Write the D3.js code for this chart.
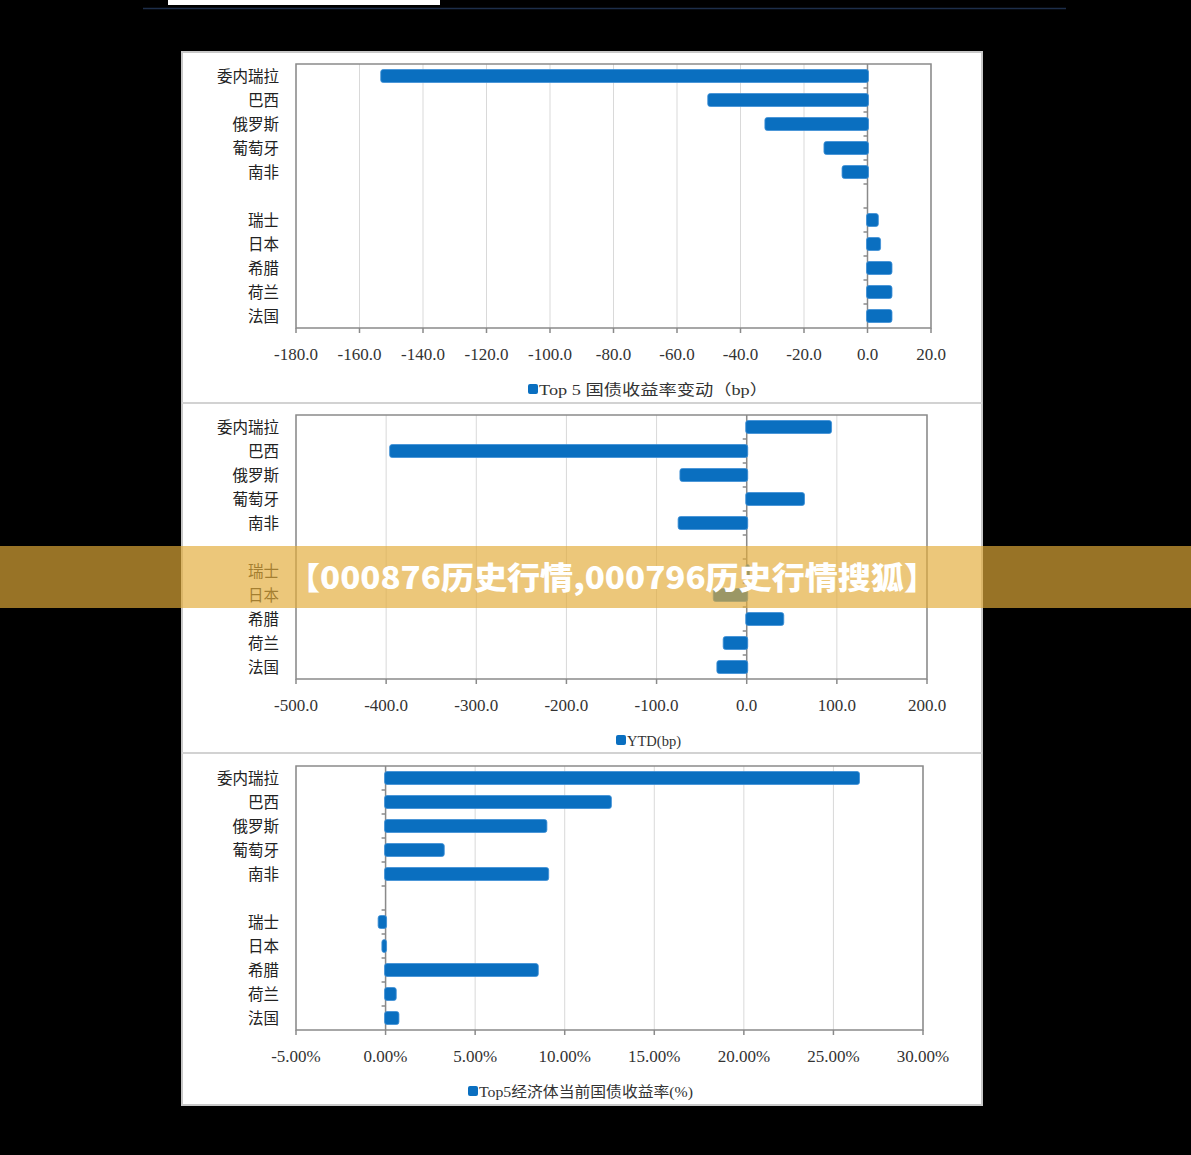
<!DOCTYPE html>
<html>
<head>
<meta charset="utf-8">
<script src="https://cdn.jsdelivr.net/npm/d3@7/dist/d3.min.js"></script>
<style>
  html, body { margin: 0; padding: 0; background: #000; }
  svg { display: block; }
</style>
</head>
<body>
<svg id="chart" width="1191" height="1155"></svg>
<script>
// ---------- DATA ----------
const categories = ["委内瑞拉", "巴西", "俄罗斯", "葡萄牙", "南非", "", "瑞士", "日本", "希腊", "荷兰", "法国"];
const changeTop5 = [-153, -50, -32, -13.4, -7.7, null, 3.1, 3.8, 7.4, 7.4, 7.4];
const ytdBp = [93, -395, -73, 63, -75, null, 2, -36, 40, -25, -32];
const yieldPct = [26.4, 12.55, 8.95, 3.22, 9.05, null, -0.36, -0.15, 8.47, 0.54, 0.69];
const ticks1 = [-180, -160, -140, -120, -100, -80, -60, -40, -20, 0, 20];
const ticks2 = [-500, -400, -300, -200, -100, 0, 100, 200];
const ticks3 = [-5, 0, 5, 10, 15, 20, 25, 30];
const legend1 = "Top 5 国债收益率变动（bp）";
const legend2 = "YTD(bp)";
const legend3 = "Top5经济体当前国债收益率(%)";
const bannerText = "【000876历史行情,000796历史行情搜狐】";

// ---------- DRAW ----------
const svg = d3.select("#chart");
const loc = d3.formatLocale({decimal: ".", thousands: ",", grouping: [3], currency: ["", ""], minus: "-"});
const fmt1 = loc.format(".1f");
const fmtPct = v => loc.format(".2f")(v) + "%";

const FONT = "'Liberation Serif', 'Noto Sans CJK SC', serif";
const BLUE = "#0a6fc0";
const FRAME = "#8a8a8a";
const GRID = "#d9d9d9";

svg.append("rect").attr("width", 1191).attr("height", 1155).attr("fill", "#000");
// top decorations
svg.append("rect").attr("x", 168).attr("y", 0).attr("width", 272).attr("height", 5).attr("fill", "#fff");
svg.append("line").attr("x1", 143).attr("x2", 1066).attr("y1", 8.5).attr("y2", 8.5)
  .attr("stroke", "#1d2e4a").attr("stroke-width", 1.5);

// white panel
svg.append("rect").attr("x", 182).attr("y", 52).attr("width", 800).attr("height", 1053)
  .attr("fill", "#fff").attr("stroke", "#c8c8c8").attr("stroke-width", 2);
[403, 753].forEach(yy => {
  svg.append("line").attr("x1", 182).attr("x2", 982).attr("y1", yy).attr("y2", yy)
    .attr("stroke", "#d2d2d2").attr("stroke-width", 2);
});

function drawChart(cfg) {
  const g = svg.append("g");
  const top = cfg.top, bottom = cfg.top + 264;
  const x = d3.scaleLinear().domain(cfg.domain).range([cfg.left, cfg.right]);
  const y = d3.scaleBand().domain(d3.range(categories.length)).range([top, bottom])
    .paddingInner(11 / 24).paddingOuter(11 / 48);
  const step = y.step();

  // gridlines
  g.selectAll(".grid").data(cfg.ticks).enter().append("line")
    .attr("x1", d => x(d)).attr("x2", d => x(d)).attr("y1", top).attr("y2", bottom)
    .attr("stroke", GRID).attr("stroke-width", 1);

  // frame
  g.append("rect").attr("x", cfg.left).attr("y", top).attr("width", cfg.right - cfg.left).attr("height", bottom - top)
    .attr("fill", "none").attr("stroke", FRAME).attr("stroke-width", 1.5);

  // bottom ticks
  g.selectAll(".xt").data(cfg.ticks).enter().append("line")
    .attr("x1", d => x(d)).attr("x2", d => x(d)).attr("y1", bottom).attr("y2", bottom + 5)
    .attr("stroke", FRAME).attr("stroke-width", 1.5);

  // tick labels
  g.selectAll(".xl").data(cfg.ticks).enter().append("text")
    .attr("x", d => x(d)).attr("y", bottom + 32)
    .attr("text-anchor", "middle")
    .attr("font-family", FONT).attr("font-size", 17).attr("fill", "#333")
    .text(d => cfg.format(d));

  // zero axis
  const x0 = x(0);
  g.append("line").attr("x1", x0).attr("x2", x0).attr("y1", top).attr("y2", bottom)
    .attr("stroke", FRAME).attr("stroke-width", 1.5);
  g.selectAll(".yt").data(d3.range(1, categories.length)).enter().append("line")
    .attr("x1", x0 - 4).attr("x2", x0).attr("y1", k => top + k * step).attr("y2", k => top + k * step)
    .attr("stroke", FRAME).attr("stroke-width", 1.5);

  // bars
  const rows = categories.map((c, i) => ({c, i, v: cfg.values[i]})).filter(d => d.v !== null);
  g.selectAll(".bar").data(rows).enter().append("rect")
    .attr("x", d => x(Math.min(0, d.v)) - 1)
    .attr("width", d => Math.abs(x(d.v) - x(0)) + 2)
    .attr("y", d => y(d.i)).attr("height", y.bandwidth())
    .attr("rx", 2.5).attr("ry", 2.5)
    .attr("fill", BLUE).attr("stroke", "#3d8fd6").attr("stroke-width", 0.8);

  // category labels
  g.selectAll(".cl").data(categories.map((c, i) => ({c, i})).filter(d => d.c !== "")).enter().append("text")
    .attr("x", 279).attr("y", d => y(d.i) + y.bandwidth() / 2)
    .attr("dy", "0.36em")
    .attr("text-anchor", "end")
    .attr("font-family", FONT).attr("font-size", 15.5).attr("fill", "#222")
    .text(d => d.c);

  // legend
  g.append("rect").attr("x", cfg.legendX).attr("y", cfg.legendY).attr("width", 10).attr("height", 10)
    .attr("rx", 2).attr("fill", BLUE);
  g.append("text").attr("x", cfg.legendX + 11).attr("y", cfg.legendY + 11)
    .attr("font-family", FONT).attr("font-size", 15).attr("fill", "#333")
    .attr("textLength", cfg.legendW).attr("lengthAdjust", "spacingAndGlyphs")
    .text(cfg.legend);
}

drawChart({top: 64, left: 296, right: 931, domain: [-180, 20], ticks: ticks1, values: changeTop5,
  format: fmt1, legend: legend1, legendX: 528, legendY: 384, legendW: 229});
drawChart({top: 415, left: 296, right: 927, domain: [-500, 200], ticks: ticks2, values: ytdBp,
  format: fmt1, legend: legend2, legendX: 616, legendY: 735, legendW: 54});
drawChart({top: 766, left: 296, right: 923, domain: [-5, 30], ticks: ticks3, values: yieldPct,
  format: fmtPct, legend: legend3, legendX: 468, legendY: 1086, legendW: 214});

// banner overlay
svg.append("rect").attr("x", 0).attr("y", 546).attr("width", 1191).attr("height", 62)
  .attr("fill", "rgb(227,172,57)").attr("fill-opacity", 0.67);
svg.append("text").attr("x", 612).attr("y", 578).attr("dy", "0.35em")
  .attr("text-anchor", "middle")
  .attr("font-family", "'Noto Sans CJK SC', sans-serif").attr("font-weight", 900)
  .attr("font-size", 31).attr("fill", "#fff")
  .attr("textLength", 650).attr("lengthAdjust", "spacingAndGlyphs")
  .text(bannerText);
</script>
</body>
</html>
